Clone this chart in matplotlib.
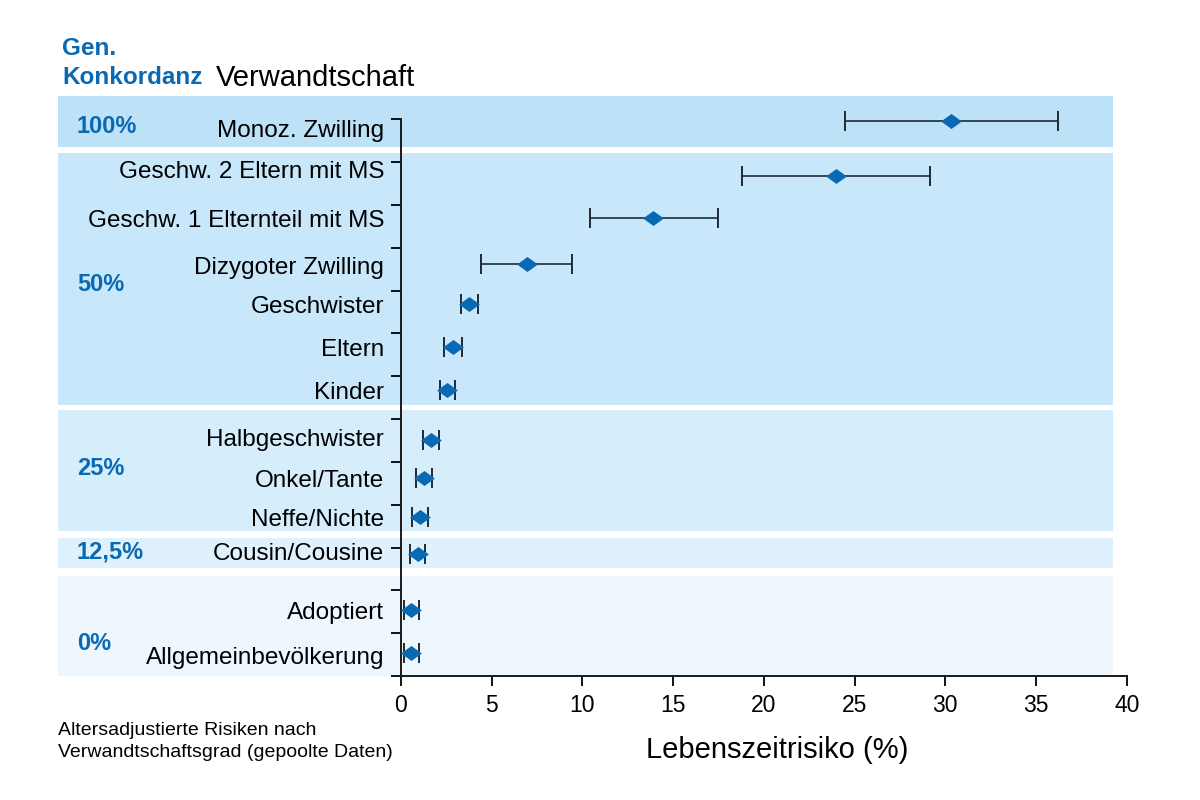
import matplotlib
matplotlib.use("Agg")
import matplotlib.pyplot as plt
import matplotlib.transforms as mtransforms
from matplotlib.patches import Rectangle

plt.rcParams['font.family'] = ['Liberation Sans', 'DejaVu Sans']

# Verwandtschaft, von oben nach unten
relations = ["Monoz. Zwilling", "Geschw. 2 Eltern mit MS", "Geschw. 1 Elternteil mit MS",
             "Dizygoter Zwilling", "Geschwister", "Eltern", "Kinder",
             "Halbgeschwister", "Onkel/Tante", "Neffe/Nichte",
             "Cousin/Cousine", "Adoptiert", "Allgemeinbevölkerung"]
risk = [30.3, 24.0, 13.9, 6.95, 3.75, 2.9, 2.55, 1.65, 1.28, 1.05, 0.93, 0.57, 0.57]
ci_low = [24.5, 18.8, 10.4, 4.4, 3.3, 2.4, 2.15, 1.25, 0.86, 0.62, 0.5, 0.17, 0.17]
ci_high = [36.2, 29.15, 17.45, 9.45, 4.28, 3.36, 2.96, 2.08, 1.72, 1.48, 1.36, 1.0, 1.0]

# genetische Konkordanz-Gruppen
groups = ["100%", "50%", "25%", "12,5%", "0%"]
group_colors = ["#bde2f8", "#c9e7fa", "#d6edfc", "#dff1fc", "#eef7fe"]

# layout (y in Zeilen-Einheiten, 0 = x-Achse)
row_y = [12.96, 11.67, 10.69, 9.61, 8.68, 7.68, 6.67, 5.5, 4.62, 3.71, 2.85, 1.54, 0.54]
label_y = [12.78, 11.82, 10.69, 9.58, 8.68, 7.68, 6.67, 5.56, 4.62, 3.71, 2.9, 1.54, 0.48]
band_y = [(12.35, 13.54), (6.32, 12.2), (3.38, 6.21), (2.52, 3.22), (0.0, 2.33)]
group_label_y = [12.84, 9.15, 4.85, 2.89, 0.77]

blue = "#0a69b3"

fig = plt.figure(figsize=(12, 8), dpi=100)
ax = fig.add_axes([0.334, 0.155, 0.605, 0.7067])
ax.set_facecolor("none")

blend = mtransforms.blended_transform_factory(fig.transFigure, ax.transData)
for (y0, y1), c in zip(band_y, group_colors):
    ax.add_patch(Rectangle((0.048, y0), 0.8795, y1 - y0, transform=blend,
                           facecolor=c, edgecolor="none", clip_on=False, zorder=0))
for g, y in zip(groups, group_label_y):
    ax.text(0.064, y, g, transform=blend, color=blue, fontsize=17,
            fontweight="bold", va="center", ha="left")

err = [[r - lo for r, lo in zip(risk, ci_low)], [hi - r for r, hi in zip(risk, ci_high)]]
ax.errorbar(risk, row_y, xerr=err, fmt="none", ecolor="#1e2a35",
            elinewidth=1.2, capsize=7, capthick=1.4, zorder=2)
diamond = [(-1, 0), (0, 0.72), (1, 0), (0, -0.72), (-1, 0)]
ax.plot(risk, row_y, linestyle="none", marker=diamond, markersize=15,
        color=blue, markeredgewidth=0, zorder=3)

ax.set_xlim(0, 40)
ax.set_ylim(0, 13.2)
ax.spines["left"].set_bounds(0, 13)
ax.set_xticks(range(0, 41, 5))
ax.set_yticks(range(0, 14))
ax.set_yticklabels([])
ax.set_yticks(label_y, relations, minor=True)
ax.tick_params(axis="y", which="major", direction="out", length=7, width=1.3)
ax.tick_params(axis="y", which="minor", length=0, pad=12, labelsize=17.5)
ax.tick_params(axis="x", direction="out", length=7, width=1.3, labelsize=16.5, pad=6)
for s in ["top", "right"]:
    ax.spines[s].set_visible(False)
for s in ["left", "bottom"]:
    ax.spines[s].set_linewidth(1.4)
    ax.spines[s].set_color("#1a1a1a")

ax.set_xlabel("Lebenszeitrisiko (%)", fontsize=21, labelpad=14)
ax.xaxis.label.set_x(0.518)

fig.text(0.052, 0.939, "Gen.", color=blue, fontsize=17.5, fontweight="bold", va="center")
fig.text(0.052, 0.903, "Konkordanz", color=blue, fontsize=17.5, fontweight="bold", va="center")
fig.text(0.18, 0.903, "Verwandtschaft", color="black", fontsize=21, va="center")
fig.text(0.048, 0.073, "Altersadjustierte Risiken nach\nVerwandtschaftsgrad (gepoolte Daten)",
         fontsize=14, va="center", ha="left", linespacing=1.35)

fig.savefig("out.png", dpi=100)
